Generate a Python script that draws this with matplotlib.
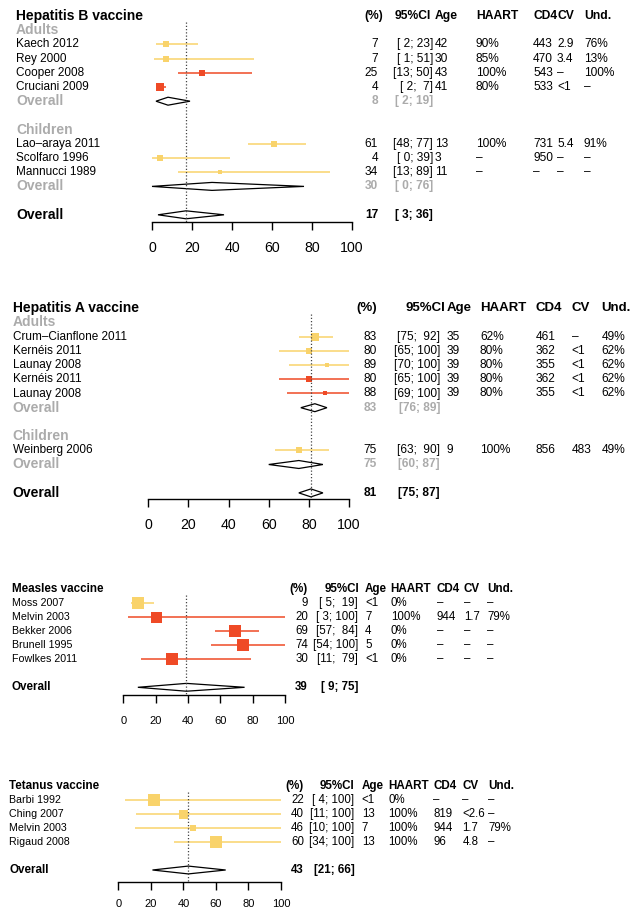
import matplotlib
matplotlib.use('Agg')
import matplotlib.pyplot as plt
import matplotlib.transforms as mtransforms
from matplotlib.patches import Polygon

plt.rcParams['font.family'] = ['Liberation Sans', 'DejaVu Sans']

YEL = '#F9D36B'
RED = '#EF4A26'
GREY = '#ABABAB'
W, H = 644, 918

# ---- Hepatitis B vaccine
hb_title = 'Hepatitis B vaccine'
hb_groups = ['Adults', 'Children']
hb_group_of = [0, 0, 0, 0, 1, 1, 1]
hb_study = ['Kaech 2012', 'Rey 2000', 'Cooper 2008', 'Cruciani 2009',
            'Lao\u2013araya 2011', 'Scolfaro 1996', 'Mannucci 1989']
hb_est = [7, 7, 25, 4, 61, 4, 34]
hb_lo = [2, 1, 13, 2, 48, 0, 13]
hb_hi = [23, 51, 50, 7, 77, 39, 89]
hb_red = [0, 0, 1, 1, 0, 0, 0]
hb_w = [6.7, 6.7, 6.7, 7.3, 6.5, 6.5, 4.5]
hb_age = ['42', '30', '43', '41', '13', '3', '11']
hb_haart = ['90%', '85%', '100%', '80%', '100%', '\u2013', '\u2013']
hb_cd4 = ['443', '470', '543', '533', '731', '950', '\u2013']
hb_cv = ['2.9', '3.4', '\u2013', '<1', '5.4', '\u2013', '\u2013']
hb_und = ['76%', '13%', '100%', '\u2013', '91%', '\u2013', '\u2013']
hb_sub_est = [8, 30]
hb_sub_lo = [2, 0]
hb_sub_hi = [19, 76]
hb_all = [17, 3, 36]

# ---- Hepatitis A vaccine
ha_title = 'Hepatitis A vaccine'
ha_groups = ['Adults', 'Children']
ha_group_of = [0, 0, 0, 0, 0, 1]
ha_study = ['Crum\u2013Cianflone 2011', 'Kern\u00e9is 2011', 'Launay 2008',
            'Kern\u00e9is 2011', 'Launay 2008', 'Weinberg 2006']
ha_est = [83, 80, 89, 80, 88, 75]
ha_lo = [75, 65, 70, 65, 69, 63]
ha_hi = [92, 100, 100, 100, 100, 90]
ha_red = [0, 0, 0, 1, 1, 0]
ha_w = [8.3, 5.2, 4.5, 5.2, 4.5, 6.3]
ha_age = ['35', '39', '39', '39', '39', '9']
ha_haart = ['62%', '80%', '80%', '80%', '80%', '100%']
ha_cd4 = ['461', '362', '355', '362', '355', '856']
ha_cv = ['\u2013', '<1', '<1', '<1', '<1', '483']
ha_und = ['49%', '62%', '62%', '62%', '62%', '49%']
ha_sub_est = [83, 75]
ha_sub_lo = [76, 60]
ha_sub_hi = [89, 87]
ha_all = [81, 75, 87]

# ---- Measles vaccine
me_title = 'Measles vaccine'
me_study = ['Moss 2007', 'Melvin 2003', 'Bekker 2006', 'Brunell 1995', 'Fowlkes 2011']
me_est = [9, 20, 69, 74, 30]
me_lo = [5, 3, 57, 54, 11]
me_hi = [19, 100, 84, 100, 79]
me_red = [0, 1, 1, 1, 1]
me_w = [12, 11, 12, 12.5, 12]
me_age = ['<1', '7', '4', '5', '<1']
me_haart = ['0%', '100%', '0%', '0%', '0%']
me_cd4 = ['\u2013', '944', '\u2013', '\u2013', '\u2013']
me_cv = ['\u2013', '1.7', '\u2013', '\u2013', '\u2013']
me_und = ['\u2013', '79%', '\u2013', '\u2013', '\u2013']
me_all = [39, 9, 75]

# ---- Tetanus vaccine
te_title = 'Tetanus vaccine'
te_study = ['Barbi 1992', 'Ching 2007', 'Melvin 2003', 'Rigaud 2008']
te_est = [22, 40, 46, 60]
te_lo = [4, 11, 10, 34]
te_hi = [100, 100, 100, 100]
te_red = [0, 0, 0, 0]
te_w = [11.7, 9, 6.3, 12.7]
te_age = ['<1', '13', '7', '13']
te_haart = ['0%', '100%', '100%', '100%']
te_cd4 = ['\u2013', '819', '944', '96']
te_cv = ['\u2013', '<2.6', '1.7', '4.8']
te_und = ['\u2013', '\u2013', '79%', '\u2013']
te_all = [43, 21, 66]

headers = ['Age', 'HAART', 'CD4', 'CV', 'Und.']

fig = plt.figure(figsize=(W / 100, H / 100), dpi=100)


def fmt_ci(lo, hi, wl, wh):
    return '[%*d; %*d]' % (wl, lo, wh, hi)


def panel(d, L):
    ax = fig.add_axes([0, 0, 1, 1])
    ax.patch.set_alpha(0)
    s = (L['x1'] - L['x0']) / 100.0
    ax.set_xlim(-L['x0'] / s, (W - L['x0']) / s)
    ax.set_ylim((H - L['y0']) / L['dy'], -L['y0'] / L['dy'])
    tr = mtransforms.blended_transform_factory(ax.transAxes, ax.transData)
    fb, fh, fl, fv = L['fb'], L['fh'], L['fl'], L['fv']

    def px(x):
        return x / W

    ax.text(px(L['lx']), 0, d['title'], transform=tr, fontsize=fb,
            fontweight='bold', va='center')
    ax.text(px(L['pct_h']), 0, '(%)', transform=tr, fontsize=fh,
            fontweight='bold', va='center', ha='right')
    ax.text(px(L['ci_h']), 0, '95%CI', transform=tr, fontsize=fh,
            fontweight='bold', va='center', ha='right')
    for hx, h in zip(L['cols'], headers):
        ax.text(px(hx), 0, h, transform=tr, fontsize=fh, fontweight='bold',
                va='center')

    wl = len(str(max(d['lo'])))
    wh = len(str(max(d['hi'])))

    def study_row(i, r):
        c = RED if d['red'][i] else YEL
        ax.plot([d['lo'][i], d['hi'][i]], [r, r], color=c, lw=1.1,
                solid_capstyle='butt')
        ax.plot(d['est'][i], r, marker='s', ms=d['w'][i] * 0.72, color=c,
                mew=0)
        ax.text(px(L['lx']), r, d['study'][i], transform=tr, fontsize=fl,
                va='center')
        ax.text(px(L['pct']), r, str(d['est'][i]), transform=tr,
                fontsize=fv, va='center', ha='right')
        ax.text(px(L['ci']), r, fmt_ci(d['lo'][i], d['hi'][i], wl, wh),
                transform=tr, fontsize=fv, va='center', ha='right')
        vals = [d['age'][i], d['haart'][i], d['cd4'][i], d['cv'][i], d['und'][i]]
        for hx, v in zip(L['cols'], vals):
            ax.text(px(hx), r, v, transform=tr, fontsize=fv, va='center')

    def diamond(e, lo, hi, r, col):
        h = 0.28
        ax.add_patch(Polygon([(lo, r), (e, r - h), (hi, r), (e, r + h)],
                             closed=True, fc='white', ec='black', lw=0.9))
        ax.text(px(L['lx']), r, 'Overall', transform=tr, fontsize=fb,
                fontweight='bold', color=col, va='center')
        ax.text(px(L['pct']), r, str(e), transform=tr, fontsize=fv,
                fontweight='bold', color=col, va='center', ha='right')
        ax.text(px(L['ci']), r, fmt_ci(lo, hi, len(str(lo)) if lo > 9 else 2,
                                       len(str(hi))),
                transform=tr, fontsize=fv, fontweight='bold', color=col,
                va='center', ha='right')

    r = 1
    if d.get('groups'):
        for g, gname in enumerate(d['groups']):
            ax.text(px(L['lx']), r, gname, transform=tr, fontsize=fb,
                    fontweight='bold', color=GREY, va='center')
            r += 1
            for i in range(len(d['study'])):
                if d['group_of'][i] == g:
                    study_row(i, r)
                    r += 1
            diamond(d['sub_est'][g], d['sub_lo'][g], d['sub_hi'][g], r, GREY)
            r += 2
    else:
        for i in range(len(d['study'])):
            study_row(i, r)
            r += 1
        r += 1
    e, lo, hi = d['all']
    diamond(e, lo, hi, r, 'black')

    ay = (L['axis'] - L['y0']) / L['dy']
    ax.plot([e, e], [0.42, ay], ls=(0, (1, 1.6)), color='#444444', lw=0.9)

    for k in ['top', 'right', 'left']:
        ax.spines[k].set_visible(False)
    ax.spines['bottom'].set_position(('data', ay))
    ax.spines['bottom'].set_bounds(0, 100)
    ax.spines['bottom'].set_linewidth(1.0)
    ax.set_yticks([])
    ax.set_xticks([0, 20, 40, 60, 80, 100])
    ax.tick_params(axis='x', direction='out', length=L['tl'], width=1.0,
                   pad=L['pad'], labelsize=L['ft'])


hb = dict(title=hb_title, groups=hb_groups, group_of=hb_group_of, study=hb_study,
          est=hb_est, lo=hb_lo, hi=hb_hi, red=hb_red, w=hb_w, age=hb_age,
          haart=hb_haart, cd4=hb_cd4, cv=hb_cv, und=hb_und,
          sub_est=hb_sub_est, sub_lo=hb_sub_lo, sub_hi=hb_sub_hi, all=hb_all)
ha = dict(title=ha_title, groups=ha_groups, group_of=ha_group_of, study=ha_study,
          est=ha_est, lo=ha_lo, hi=ha_hi, red=ha_red, w=ha_w, age=ha_age,
          haart=ha_haart, cd4=ha_cd4, cv=ha_cv, und=ha_und,
          sub_est=ha_sub_est, sub_lo=ha_sub_lo, sub_hi=ha_sub_hi, all=ha_all)
me = dict(title=me_title, study=me_study, est=me_est, lo=me_lo, hi=me_hi,
          red=me_red, w=me_w, age=me_age, haart=me_haart, cd4=me_cd4,
          cv=me_cv, und=me_und, all=me_all)
te = dict(title=te_title, study=te_study, est=te_est, lo=te_lo, hi=te_hi,
          red=te_red, w=te_w, age=te_age, haart=te_haart, cd4=te_cd4,
          cv=te_cv, und=te_und, all=te_all)

# layout in pixels
L1 = dict(y0=16, dy=14.2, x0=152, x1=352, axis=221.7, lx=16, pct=378, pct_h=383,
          ci=433, ci_h=431, cols=[435, 476, 533, 557, 584],
          fb=10, fh=8.7, fl=8.5, fv=8.6, ft=10.2, tl=5.8, pad=8)
L2 = dict(y0=308.3, dy=14.2, x0=148.3, x1=349, axis=499.3, lx=12.7, pct=377,
          pct_h=377, ci=440, ci_h=445, cols=[446.7, 480, 536, 571.7, 601.7],
          fb=10, fh=9.5, fl=8.5, fv=8.6, ft=10.2, tl=5.8, pad=7.5)
L3 = dict(y0=589.3, dy=14, x0=123.3, x1=285, axis=695, lx=11.7, pct=308,
          pct_h=308, ci=358, ci_h=359, cols=[365, 390.7, 436.7, 464, 487.3],
          fb=8.4, fh=8.4, fl=7.7, fv=8.3, ft=8, tl=5.8, pad=9)
L4 = dict(y0=786, dy=14, x0=118.3, x1=281, axis=881.7, lx=9.3, pct=304,
          pct_h=304, ci=354.3, ci_h=354.3, cols=[361.7, 388.3, 433.3, 462.3, 488.3],
          fb=8.4, fh=8.4, fl=7.7, fv=8.3, ft=8, tl=5.8, pad=7)

panel(hb, L1)
panel(ha, L2)
panel(me, L3)
panel(te, L4)

fig.savefig('out.png', dpi=100)
